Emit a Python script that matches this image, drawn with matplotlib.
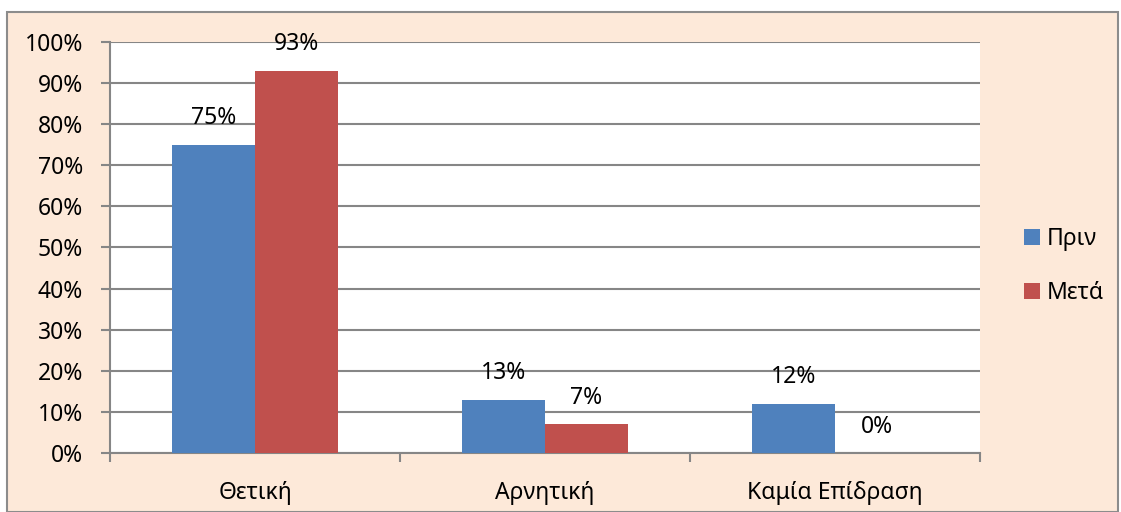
import matplotlib.pyplot as plt
from matplotlib.patches import Rectangle
from matplotlib.ticker import FixedLocator, NullFormatter
import numpy as np

CATEGORIES = ["Θετική", "Αρνητική", "Καμία Επίδραση"]
SERIES = ["Πριν", "Μετά"]
BEFORE = [75, 13, 12]
AFTER = [93, 7, 0]
COLORS = {"Πριν": "#4F81BD", "Μετά": "#C0504D"}

plt.rcParams['font.family'] = ['Noto Sans', 'DejaVu Sans']
plt.rcParams['font.size'] = 16.5

W, H = 1121, 512
fig = plt.figure(figsize=(W / 100, H / 100), dpi=100)
fig.patch.set_facecolor("white")

# framed peach background of the chart area
fig.patches.append(Rectangle((7 / W, 0), (1118 - 7) / W, (H - 12) / H,
                             transform=fig.transFigure, facecolor="#FDE9D9",
                             edgecolor="#8C8C8C", linewidth=1.5, zorder=-5))

ax = fig.add_axes([110 / W, (H - 453) / H, (980 - 110) / W, (453 - 42) / H])
ax.set_facecolor("white")

x = np.arange(len(CATEGORIES))
w = 0.286
grid_c = "#868686"

b1 = ax.bar(x - w / 2, BEFORE, w, color=COLORS["Πριν"], label="Πριν", zorder=3)
b2 = ax.bar(x + w / 2, AFTER, w, color=COLORS["Μετά"], label="Μετά", zorder=3)

for bars, vals in [(b1, BEFORE), (b2, AFTER)]:
    for r, v in zip(bars, vals):
        ax.annotate("{}%".format(v), (r.get_x() + r.get_width() / 2, v),
                    xytext=(0, 19), textcoords="offset points",
                    ha="center", va="center", zorder=4)

ax.set_xlim(-0.5, len(CATEGORIES) - 0.5)
ax.set_ylim(0, 100)
ax.set_yticks(np.arange(0, 101, 10))
ax.set_yticklabels(["{}%".format(v) for v in range(0, 101, 10)])
ax.yaxis.grid(True, color=grid_c, linewidth=1.5, zorder=1)
ax.set_axisbelow(True)

# category labels centred, tick marks at the category boundaries
ax.xaxis.set_major_locator(FixedLocator(np.arange(-0.5, len(CATEGORIES), 1.0)))
ax.xaxis.set_major_formatter(NullFormatter())
ax.xaxis.set_minor_locator(FixedLocator(x))
ax.set_xticklabels(CATEGORIES, minor=True)
ax.tick_params(axis="x", which="minor", length=0, pad=20)
ax.tick_params(axis="x", which="major", length=6.5, width=1.5, color=grid_c)
ax.tick_params(axis="y", length=6.5, width=1.5, color=grid_c, pad=13)

for s in ["top", "right"]:
    ax.spines[s].set_visible(False)
for s in ["left", "bottom"]:
    ax.spines[s].set_color(grid_c)
    ax.spines[s].set_linewidth(1.5)

ax.legend(loc="center left", bbox_to_anchor=(1.027, 0.455), frameon=False,
          handlelength=0.7, handleheight=0.7, handletextpad=0.3,
          labelspacing=1.3)

fig.savefig("out.png", dpi=100, facecolor=fig.get_facecolor())
